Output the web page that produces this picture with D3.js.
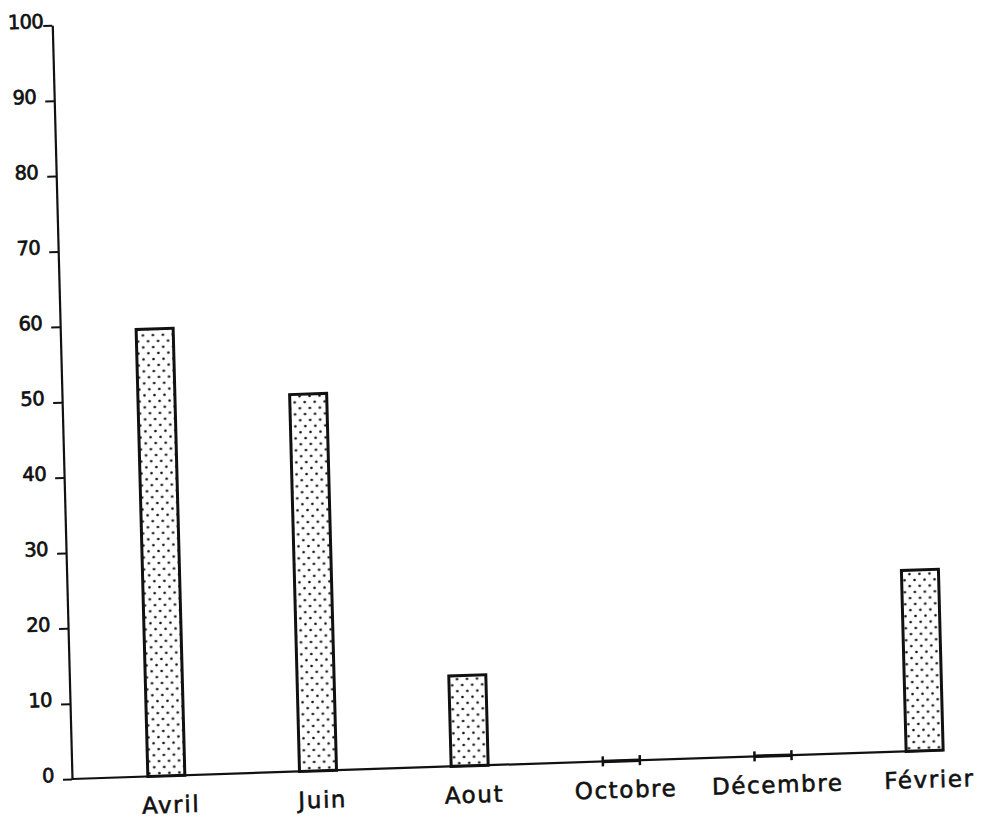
<!DOCTYPE html>
<html>
<head>
<meta charset="utf-8">
<script src="https://cdn.jsdelivr.net/npm/d3@7"></script>
<style>
  html, body { margin: 0; padding: 0; background: #fff; }
  svg { display: block; }
</style>
</head>
<body>
<div id="chart"></div>
<script>
// ---- data ----
const categories = ["Avril", "Juin", "Aout", "Octobre", "Décembre", "Février"];
const values = [59.3, 50, 12, 0, 0, 24];
const yTicks = [0, 10, 20, 30, 40, 50, 60, 70, 80, 90, 100];

const W = 984, H = 820;
const svg = d3.select("#chart").append("svg")
  .attr("width", W).attr("height", H)
  .attr("viewBox", `0 0 ${W} ${H}`);

// dotted fill pattern
const defs = svg.append("defs");
const pat = defs.append("pattern")
  .attr("id", "dots").attr("patternUnits", "userSpaceOnUse")
  .attr("width", 10).attr("height", 12);
pat.append("rect").attr("width", 10).attr("height", 12).attr("fill", "#fff");
pat.append("circle").attr("cx", 2.5).attr("cy", 3).attr("r", 1.3).attr("fill", "#111");
pat.append("circle").attr("cx", 7.5).attr("cy", 9).attr("r", 1.3).attr("fill", "#111");

// slightly skewed / rotated scan: origin at the axis corner
const ax = 1.9 * Math.PI / 180, ay = 1.5 * Math.PI / 180;
const g = svg.append("g").attr("transform",
  `matrix(${Math.cos(ax)},${-Math.sin(ax)},${Math.sin(ay)},${Math.cos(ay)},72,779)`);

const x = d3.scaleBand().domain(categories).range([0, 947.5])
  .paddingInner(0.756).paddingOuter(0.5);
const y = d3.scaleLinear().domain([0, 100]).range([0, -754]);

const ink = "#111";
const font = "'DejaVu Sans', 'Liberation Sans', sans-serif";

// y axis
const yAxis = g.append("g").call(
  d3.axisLeft(y).tickValues(yTicks).tickSize(9).tickSizeOuter(0).tickFormat(d3.format("d"))
);
yAxis.select(".domain").attr("stroke", ink).attr("stroke-width", 2.2);
yAxis.selectAll(".tick line").attr("stroke", ink).attr("stroke-width", 2);
yAxis.selectAll(".tick text")
  .attr("x", d => d === 100 ? -9 : -18)
  .attr("dy", "0.1em")
  .attr("fill", ink)
  .attr("stroke", ink).attr("stroke-width", 0.7)
  .style("font-family", font)
  .style("font-size", "19.5px")
  .style("letter-spacing", "-0.6px");

// x axis line
const xEnd = x(categories[categories.length - 1]) + x.bandwidth();
g.append("line")
  .attr("x1", 0).attr("x2", xEnd)
  .attr("y1", y(0)).attr("y2", y(0))
  .attr("stroke", ink).attr("stroke-width", 2.2);

// bars
const data = categories.map((c, i) => ({ c, v: values[i] }));
g.selectAll("rect.bar").data(data.filter(d => d.v > 0)).join("rect")
  .attr("class", "bar")
  .attr("x", d => x(d.c))
  .attr("y", d => y(d.v))
  .attr("width", x.bandwidth())
  .attr("height", d => y(0) - y(d.v))
  .attr("fill", "url(#dots)")
  .attr("stroke", ink).attr("stroke-width", 3);

// zero-value markers
const zeros = g.selectAll("g.zero").data(data.filter(d => d.v === 0)).join("g").attr("class", "zero");
zeros.append("line")
  .attr("x1", d => x(d.c)).attr("x2", d => x(d.c) + x.bandwidth())
  .attr("y1", y(0)).attr("y2", y(0))
  .attr("stroke", ink).attr("stroke-width", 3.5);
zeros.append("line")
  .attr("x1", d => x(d.c)).attr("x2", d => x(d.c))
  .attr("y1", y(0) - 5).attr("y2", y(0) + 5)
  .attr("stroke", ink).attr("stroke-width", 2.5);
zeros.append("line")
  .attr("x1", d => x(d.c) + x.bandwidth()).attr("x2", d => x(d.c) + x.bandwidth())
  .attr("y1", y(0) - 5).attr("y2", y(0) + 5)
  .attr("stroke", ink).attr("stroke-width", 2.5);

// category labels
g.selectAll("text.cat").data(categories).join("text")
  .attr("class", "cat")
  .attr("x", d => x(d) + x.bandwidth() / 2 + 4)
  .attr("y", 37)
  .attr("text-anchor", "middle")
  .attr("fill", ink)
  .attr("stroke", ink).attr("stroke-width", 0.6)
  .style("font-family", font)
  .style("font-size", "23px")
  .style("letter-spacing", "1.6px")
  .text(d => d);
</script>
</body>
</html>
